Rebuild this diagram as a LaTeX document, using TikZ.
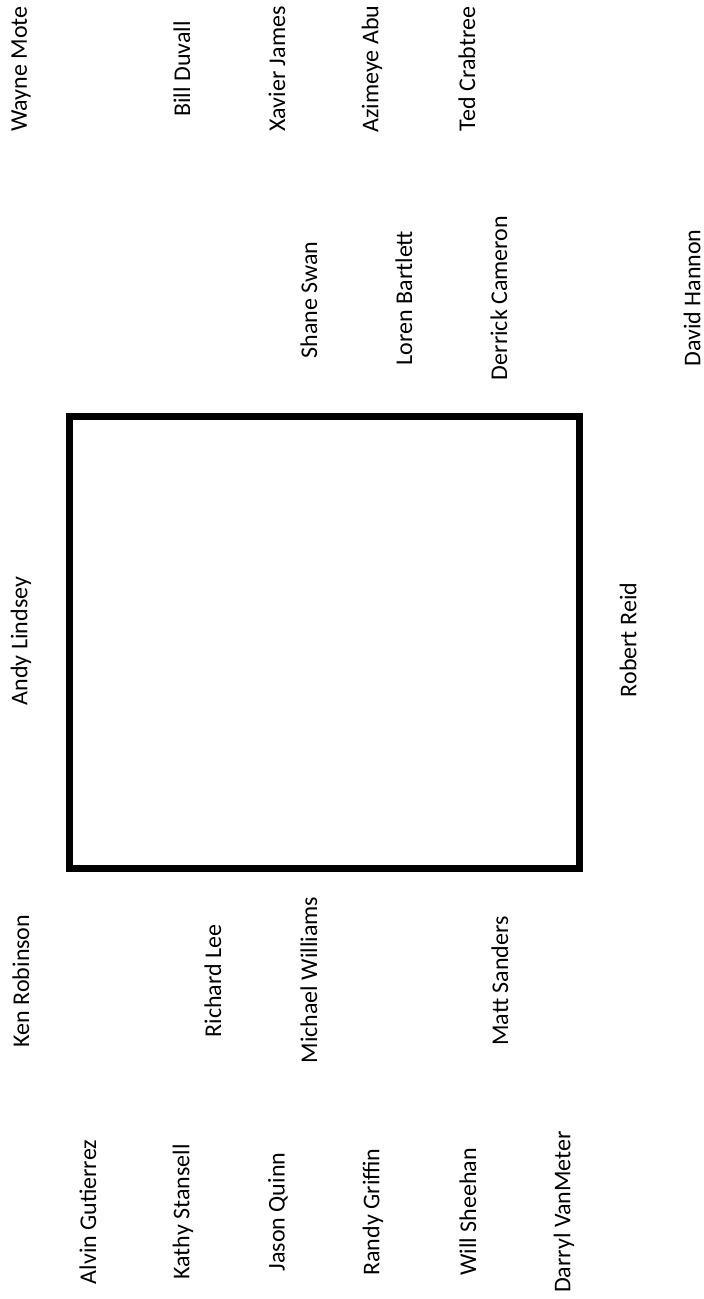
\documentclass[tikz,border=0pt]{standalone}
\usepackage{fontspec}
\setmainfont{Carlito}
\tikzset{seat/.style={rotate=90,inner sep=0pt,font=\fontsize{24}{28}\selectfont}}
\begin{document}
\begin{tikzpicture}[x=1pt,y=-1pt]
\useasboundingbox (0,0) rectangle (704,1299);
\draw[line width=7pt] (69,416) rectangle (579,868);
\node[seat,at={(21,69)}] (wayne) {Wayne Mote};
\node[seat,at={(182,69)}] (bill) {Bill Duvall};
\node[seat,at={(277,69)}] (xavier) {Xavier James};
\node[seat,at={(372,69)}] (azimeye) {Azimeye Abu};
\node[seat,at={(467,69)}] (ted) {Ted Crabtree};
\node[seat,at={(309,300)}] (shane) {Shane Swan};
\node[seat,at={(404,298)}] (loren) {Loren Bartlett};
\node[seat,at={(499,298)}] (derrick) {Derrick Cameron};
\node[seat,at={(692,298)}] (david) {David Hannon};
\node[seat,at={(21,641)}] (andy) {Andy Lindsey};
\node[seat,at={(628,640)}] (robert) {Robert Reid};
\node[seat,at={(21,981)}] (ken) {Ken Robinson};
\node[seat,at={(213,981)}] (richard) {Richard Lee};
\node[seat,at={(309,980)}] (michael) {Michael Williams};
\node[seat,at={(500,981)}] (matt) {Matt Sanders};
\node[seat,at={(88,1212)}] (alvin) {Alvin Gutierrez};
\node[seat,at={(183,1212)}] (kathy) {Kathy Stansell};
\node[seat,at={(278,1212)}] (jason) {Jason Quinn};
\node[seat,at={(373,1212)}] (randy) {Randy Griffin};
\node[seat,at={(468,1212)}] (will) {Will Sheehan};
\node[seat,at={(564,1212)}] (darryl) {Darryl VanMeter};
\end{tikzpicture}
\end{document}
